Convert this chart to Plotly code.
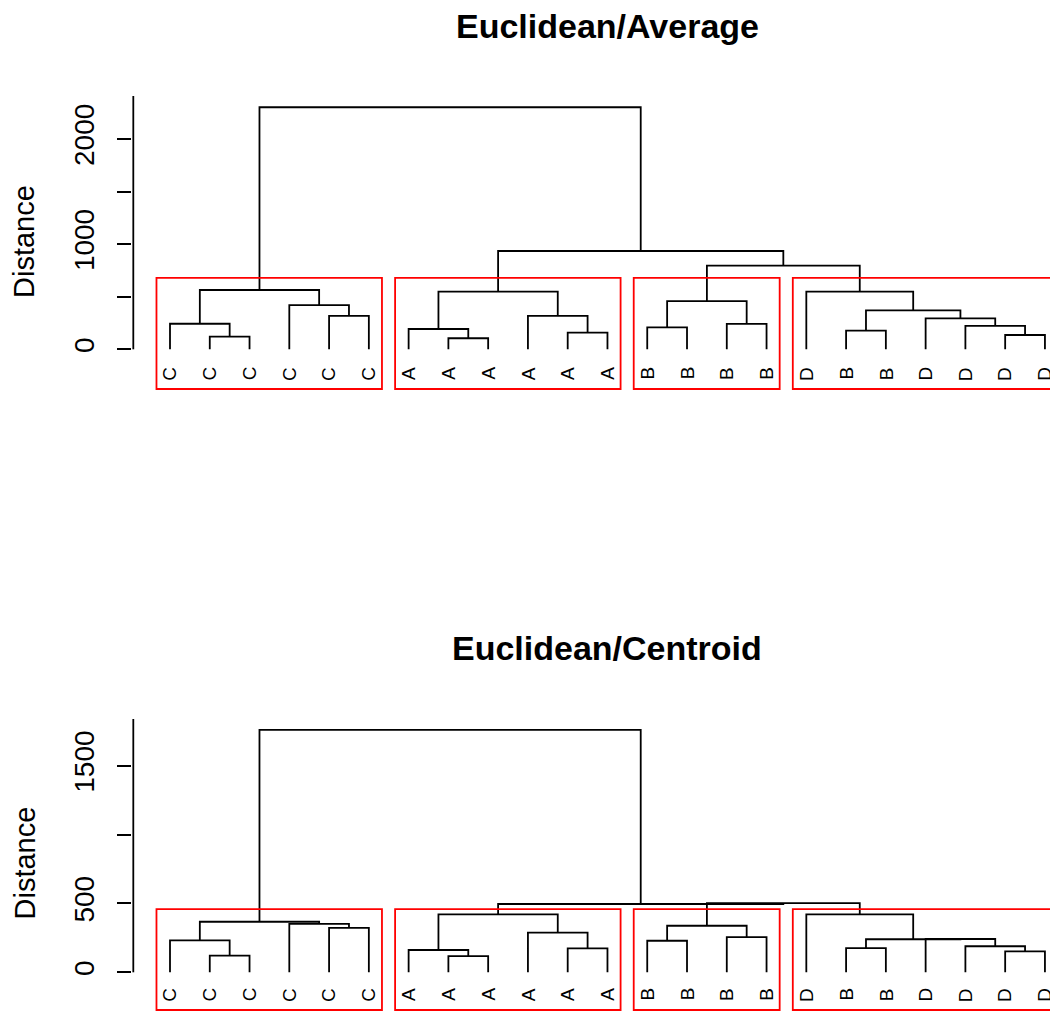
import plotly.graph_objects as go

W, H = 1050, 1011

# Leaf labels in dendrogram order (left to right)
leaf_labels = ["C", "C", "C", "C", "C", "C",
               "A", "A", "A", "A", "A", "A",
               "B", "B", "B", "B",
               "D", "B", "B", "D", "D", "D", "D"]

# Merge steps (hclust style): negative = leaf position, positive = earlier merge step
merge_left = [-2, -1, -5, -4, 2, -8, -7, -11, -10, 7, -13, -15, 11,
              -18, -22, -21, -20, 14, -17, 13, 10, 5]
merge_right = [-3, 1, -6, 3, 4, -9, 6, -12, 8, 9, -14, -16, 12,
               -19, -23, 15, 16, 17, 18, 19, 20, 21]

# Merge heights for the two linkage methods
avg_heights = [120, 243, 317, 421, 564, 105, 193, 158, 317, 548, 209, 241, 459,
               177, 136, 222, 295, 371, 548, 795, 935, 2302]
cen_heights = [121, 232, 322, 351, 367, 118, 162, 174, 288, 421, 229, 256, 338,
               176, 152, 189, 242, 240, 421, 503, 496, 1760]

avg_ticks = [0, 500, 1000, 1500, 2000]
avg_tick_text = ["0", "", "1000", "", "2000"]
cen_ticks = [0, 500, 1000, 1500]
cen_tick_text = ["0", "500", "", "1500"]

n_clusters = 4

FONT = "Liberation Sans, Arial, Helvetica, sans-serif"

# page geometry (pixels)
MARGIN_L = 132
PLOT_W = W - MARGIN_L
LEAF1_PX = 170.0
LEAF_STEP_PX = 39.77
AXIS_LINE_PX = 133.3
x_left = 1 - (LEAF1_PX - MARGIN_L) / LEAF_STEP_PX
x_right = x_left + PLOT_W / LEAF_STEP_PX
axis_x = 1 - (LEAF1_PX - AXIS_LINE_PX) / LEAF_STEP_PX

panels = [
    dict(heights=avg_heights, ticks=avg_ticks, tick_text=avg_tick_text,
         title="Euclidean/Average", zero_px=349.3, ppu=0.10515,
         top_px=96, bottom_px=390, rect_bottom_px=389,
         title_px=26, ylab_px=242, label_gap_px=16.5),
    dict(heights=cen_heights, ticks=cen_ticks, tick_text=cen_tick_text,
         title="Euclidean/Centroid", zero_px=972.3, ppu=0.1377,
         top_px=719, bottom_px=1011, rect_bottom_px=1010,
         title_px=647.5, ylab_px=863.5, label_gap_px=14.5),
]


def dendro_path(left, right, heights):
    node_x = [0.0] * len(heights)

    def pos(c):
        if c < 0:
            return float(-c), 0.0
        return node_x[c - 1], heights[c - 1]

    xs, ys = [], []
    for i in range(len(heights)):
        x1, y1 = pos(left[i])
        x2, y2 = pos(right[i])
        h = heights[i]
        xs += [x1, x1, x2, x2, None]
        ys += [y1, h, h, y2, None]
        node_x[i] = (x1 + x2) / 2
    return xs, ys


def cluster_spans(left, right, heights, k):
    ordered = sorted(heights, reverse=True)
    cut = (ordered[k - 2] + ordered[k - 1]) / 2

    def leaves(c):
        if c < 0:
            return [-c]
        return leaves(left[c - 1]) + leaves(right[c - 1])

    spans = []

    def walk(c):
        if c > 0 and heights[c - 1] > cut:
            walk(left[c - 1])
            walk(right[c - 1])
        else:
            lv = leaves(c)
            spans.append((min(lv), max(lv)))

    walk(len(heights))
    return sorted(spans), cut


fig = go.Figure()
shapes, annotations = [], []
layout_axes = {}

for i, p in enumerate(panels):
    sfx = "" if i == 0 else str(i + 1)
    xref, yref = "x" + sfx, "y" + sfx
    y_lo = -(p["bottom_px"] - p["zero_px"]) / p["ppu"]
    y_hi = (p["zero_px"] - p["top_px"]) / p["ppu"]
    dom = [1 - p["bottom_px"] / H, 1 - p["top_px"] / H]

    xs, ys = dendro_path(merge_left, merge_right, p["heights"])
    fig.add_trace(go.Scatter(x=xs, y=ys, mode="lines", xaxis=xref, yaxis=yref,
                             line=dict(color="black", width=1.8),
                             hoverinfo="skip", showlegend=False))

    spans, cut = cluster_spans(merge_left, merge_right, p["heights"], n_clusters)
    rect_bottom = -(p["rect_bottom_px"] - p["zero_px"]) / p["ppu"]
    for lo, hi in spans:
        shapes.append(dict(type="rect", xref=xref, yref=yref,
                           x0=lo - 1 + 0.66, x1=hi + 0.33, y0=rect_bottom, y1=cut,
                           line=dict(color="#ff0000", width=1.8),
                           fillcolor="rgba(0,0,0,0)"))

    # vertical axis line from the lowest tick upward
    shapes.append(dict(type="line", xref=xref, yref=yref,
                       x0=axis_x, x1=axis_x, y0=p["ticks"][0], y1=y_hi,
                       line=dict(color="black", width=1.8)))

    for j, lab in enumerate(leaf_labels):
        annotations.append(dict(x=j + 1, y=0, xref=xref, yref=yref, text=lab,
                                showarrow=False, textangle=-90, yanchor="top",
                                xanchor="center", yshift=-p["label_gap_px"],
                                borderpad=0,
                                font=dict(family=FONT, size=19, color="black")))

    annotations.append(dict(x=12, xref=xref, y=1 - p["title_px"] / H, yref="paper",
                            text=p["title"], showarrow=False,
                            xanchor="center", yanchor="middle",
                            font=dict(family=FONT, size=34, color="black",
                                      weight="bold")))
    annotations.append(dict(x=(24 - MARGIN_L) / PLOT_W, xref="paper",
                            y=1 - p["ylab_px"] / H, yref="paper",
                            text="Distance", showarrow=False, textangle=-90,
                            xanchor="center", yanchor="middle",
                            font=dict(family=FONT, size=29, color="black")))

    layout_axes["xaxis" + sfx] = dict(domain=[0, 1], range=[x_left, x_right],
                                      anchor=yref, visible=False, fixedrange=True)
    layout_axes["yaxis" + sfx] = dict(domain=dom, range=[y_lo, y_hi], anchor=xref,
                                      tickmode="array", tickvals=p["ticks"],
                                      ticktext=p["tick_text"], ticks="outside",
                                      ticklen=14, tickwidth=1.8, tickcolor="black",
                                      tickangle=-90, ticklabelstandoff=12,
                                      tickfont=dict(family=FONT, size=28,
                                                    color="black"),
                                      showgrid=False, zeroline=False,
                                      showline=False, fixedrange=True)

fig.update_layout(width=W, height=H, paper_bgcolor="white", plot_bgcolor="white",
                  margin=dict(l=MARGIN_L, r=0, t=0, b=0, autoexpand=False),
                  shapes=shapes, annotations=annotations, showlegend=False,
                  **layout_axes)

fig.write_html("out.html")
